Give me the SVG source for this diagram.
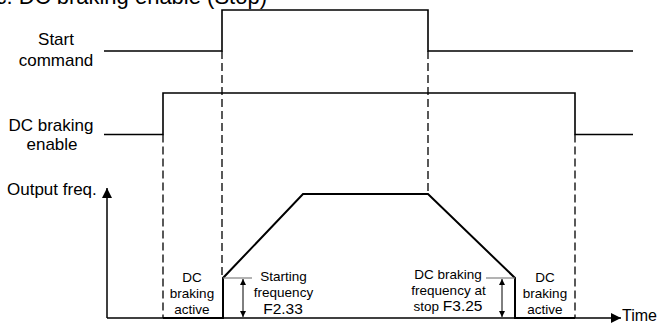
<svg xmlns="http://www.w3.org/2000/svg" width="661" height="324" viewBox="0 0 661 324">
<style>
  text { font-family: "Liberation Sans", Arial, sans-serif; fill: #000; }
  .lbl { font-size: 17px; text-anchor: middle; }
  .sm { font-size: 13.5px; text-anchor: middle; }
  .big { font-size: 15.5px; }
  .sig { fill: none; stroke: #000; stroke-width: 1.6; stroke-linejoin: miter; }
  .out { fill: none; stroke: #000; stroke-width: 2; stroke-linejoin: miter; }
  .dash { fill: none; stroke: #000; stroke-width: 1.3; stroke-dasharray: 8 4; }
  .axis { fill: none; stroke: #000; stroke-width: 1.5; }
  .tick { fill: none; stroke: #808080; stroke-width: 1.2; }
  .dim { fill: none; stroke: #000; stroke-width: 1; }
</style>
<defs>
  <marker id="ah" viewBox="0 0 10 10" refX="10" refY="5" markerWidth="10" markerHeight="10" markerUnits="userSpaceOnUse" orient="auto">
    <path d="M0,0 L10,5 L0,10 Z" fill="#000"/>
  </marker>
  <marker id="sh" viewBox="0 0 10 10" refX="10" refY="5" markerWidth="6" markerHeight="6" markerUnits="userSpaceOnUse" orient="auto-start-reverse">
    <path d="M0,0 L10,5 L0,10 Z" fill="#000"/>
  </marker>
</defs>

<text x="267" y="4" font-size="22" text-anchor="end">c: DC braking enable (Stop)</text>

<g id="start-command">
  <text class="lbl" x="56" y="45">Start</text>
  <text class="lbl" x="56" y="66">command</text>
  <polyline class="sig" points="104,51 222,51 222,10 428,10 428,51 633,51"/>
</g>

<g id="dc-braking-enable">
  <text class="lbl" x="51" y="131">DC braking</text>
  <text class="lbl" x="52" y="150">enable</text>
  <polyline class="sig" points="104,134.5 163,134.5 163,93 575,93 575,134.5 633,134.5"/>
</g>

<g id="output-freq">
  <text x="7" y="195" font-size="17">Output freq.</text>
  <polyline class="out" points="163,318 223,318 223,278 303,194 428,194 515,278 515,318 575,318"/>
</g>

<g id="connectors">
  <line class="axis" x1="107" y1="318" x2="107" y2="188" marker-end="url(#ah)"/>
  <line class="axis" x1="107" y1="318" x2="621" y2="318" marker-end="url(#ah)"/>
  <line class="dash" x1="163" y1="134.5" x2="163" y2="318"/>
  <line class="dash" x1="222" y1="51" x2="222" y2="278"/>
  <line class="dash" x1="428" y1="51" x2="428" y2="194"/>
  <line class="dash" x1="575" y1="134.5" x2="575" y2="318"/>
  <line class="tick" x1="223" y1="278" x2="252" y2="278"/>
  <line class="tick" x1="486" y1="278" x2="515" y2="278"/>
  <line class="dim" x1="243" y1="279" x2="243" y2="317" marker-start="url(#sh)" marker-end="url(#sh)"/>
  <line class="dim" x1="502" y1="279" x2="502" y2="317" marker-start="url(#sh)" marker-end="url(#sh)"/>
</g>

<g id="time-label">
  <text x="622" y="320.5" font-size="16">Time</text>
</g>

<g id="dc-active-left">
  <text class="sm" x="192" y="282">DC</text>
  <text class="sm" x="192" y="298">braking</text>
  <text class="sm" x="192" y="314">active</text>
</g>

<g id="starting-frequency">
  <text class="sm" x="283.5" y="281">Starting</text>
  <text class="sm" x="283.5" y="297">frequency</text>
  <text class="sm big" x="283" y="314">F2.33</text>
</g>

<g id="dc-braking-frequency">
  <text class="sm" x="448" y="279">DC braking</text>
  <text class="sm" x="448.5" y="295">frequency at</text>
  <text class="sm" x="448" y="311">stop <tspan class="big">F3.25</tspan></text>
</g>

<g id="dc-active-right">
  <text class="sm" x="545" y="282">DC</text>
  <text class="sm" x="545" y="298">braking</text>
  <text class="sm" x="545" y="314">active</text>
</g>
</svg>
